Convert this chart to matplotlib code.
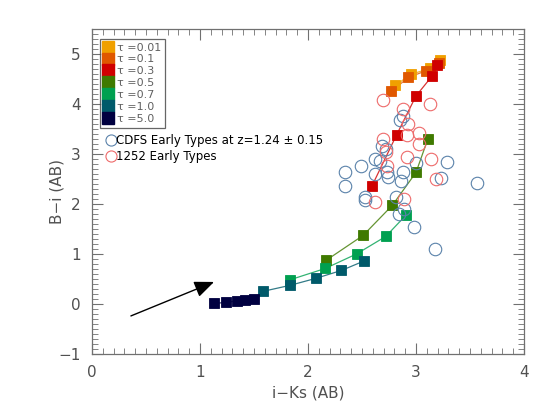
import numpy as np
import matplotlib
matplotlib.use('Agg')
import matplotlib.pyplot as plt
from matplotlib.lines import Line2D
from matplotlib.ticker import MultipleLocator

# Model tracks (i-Ks, B-i) for each tau
tau_labels = ['0.01', '0.1', '0.3', '0.5', '0.7', '1.0', '5.0']
tau_colors = ['#f0a000', '#e05800', '#d00000', '#3f7a00', '#00a050', '#005a6a', '#000040']

track_x = [
    [2.81, 2.95, 3.13, 3.22],
    [2.77, 2.93, 3.09, 3.21],
    [2.59, 2.82, 3.00, 3.15, 3.19],
    [2.17, 2.51, 2.78, 3.00, 3.11],
    [1.83, 2.16, 2.45, 2.72, 2.905],
    [1.58, 1.83, 2.07, 2.31, 2.52],
    [1.13, 1.24, 1.34, 1.42, 1.50],
]
track_y = [
    [4.37, 4.59, 4.71, 4.88],
    [4.25, 4.53, 4.66, 4.81],
    [2.35, 3.38, 4.16, 4.56, 4.77],
    [0.875, 1.37, 1.97, 2.63, 3.30],
    [0.48, 0.71, 1.00, 1.35, 1.77],
    [0.25, 0.37, 0.51, 0.67, 0.86],
    [0.01, 0.03, 0.06, 0.08, 0.10],
]

# CDFS early types at z=1.24
cdfs_x = [2.877, 2.852, 2.682, 2.722, 2.491, 2.620, 2.667, 3.284, 2.340, 3.000,
          2.884, 2.620, 2.727, 2.744, 2.861, 3.236, 3.565, 2.347, 2.528, 2.531,
          2.815, 2.889, 2.843, 2.983, 3.173]
cdfs_y = [3.76, 3.68, 3.16, 3.09, 2.76, 2.90, 2.86, 2.84, 2.64, 2.82,
          2.63, 2.59, 2.63, 2.53, 2.45, 2.51, 2.42, 2.36, 2.13, 2.07,
          2.14, 1.89, 1.80, 1.53, 1.09]

# 1252 early types
r1252_x = [2.694, 3.130, 2.880, 2.926, 3.028, 2.917, 2.694, 3.028, 2.722, 2.917,
           3.139, 2.731, 3.185, 2.889, 2.620]
r1252_y = [4.08, 4.00, 3.90, 3.60, 3.42, 3.38, 3.30, 3.20, 3.04, 2.94,
           2.90, 2.76, 2.50, 2.10, 2.04]

arrow_start = (0.36, -0.24)
arrow_end = (1.13, 0.44)

fig = plt.figure(figsize=(5.51, 4.13), dpi=100)
ax = fig.add_axes([0.167, 0.143, 0.784, 0.787])

axis_gray = '#707070'

# tracks: lines first, squares on top
for tx, ty, c in zip(track_x, track_y, tau_colors):
    ax.plot(tx, ty, '-', color=c, lw=0.9, alpha=0.8, zorder=2)
for tx, ty, c in zip(track_x, track_y, tau_colors):
    ax.plot(tx, ty, 's', color=c, ms=7.5, mec=c, mew=0.6, zorder=3)

ax.plot(cdfs_x, cdfs_y, 'o', mfc='none', mec='#5a82aa', ms=9, mew=0.8, zorder=4)
ax.plot(r1252_x, r1252_y, 'o', mfc='none', mec='#ee6a6a', ms=9, mew=0.8, zorder=4)

ax.annotate('', xy=arrow_end, xytext=arrow_start,
            arrowprops=dict(arrowstyle='-|>,head_length=1.2,head_width=0.5',
                            color='black', lw=1.0, shrinkA=0, shrinkB=0))

ax.set_xlim(0, 4)
ax.set_ylim(-1, 5.5)
ax.xaxis.set_major_locator(MultipleLocator(1))
ax.xaxis.set_minor_locator(MultipleLocator(0.1))
ax.yaxis.set_major_locator(MultipleLocator(1))
ax.yaxis.set_minor_locator(MultipleLocator(0.1))
ax.tick_params(which='both', direction='in', top=True, right=True,
               color=axis_gray, labelcolor='#505050', labelsize=11)
ax.tick_params(which='major', length=8, width=0.8, pad=8)
ax.tick_params(which='minor', length=4, width=0.6)
for s in ax.spines.values():
    s.set_color(axis_gray)
    s.set_linewidth(0.9)

ax.set_xlabel('i\u2212Ks (AB)', color='#505050', fontsize=11, labelpad=4)
ax.set_ylabel('B\u2212i (AB)', color='#505050', fontsize=11, labelpad=-4)

# legend for tau tracks
handles = [Line2D([], [], marker='s', ls='none', color=c, ms=8.5)
           for c in tau_colors]
labels = ['\u03c4 =' + t for t in tau_labels]
leg = ax.legend(handles, labels, loc='upper left', bbox_to_anchor=(0.018, 0.97),
                fontsize=8, labelcolor='#606060', frameon=True, fancybox=False,
                handlelength=0.8, handletextpad=0.4, labelspacing=0.17,
                borderpad=0.35, borderaxespad=0)
leg.get_frame().set_edgecolor('#404040')
leg.get_frame().set_linewidth(0.9)
ax.add_artist(leg)

# legend for the observed samples
h2 = [Line2D([], [], marker='o', ls='none', mfc='none', mec='#5a82aa', ms=8, mew=0.8),
      Line2D([], [], marker='o', ls='none', mfc='none', mec='#ee6a6a', ms=8, mew=0.8)]
l2 = ['CDFS Early Types at z=1.24 \u00b1 0.15', '1252 Early Types']
leg2 = ax.legend(h2, l2, loc='upper left', bbox_to_anchor=(0.022, 0.69),
                 fontsize=8.5, frameon=False, handlelength=0.8,
                 handletextpad=0.05, labelspacing=0.25, borderaxespad=0)

fig.savefig('out.png', dpi=100)
